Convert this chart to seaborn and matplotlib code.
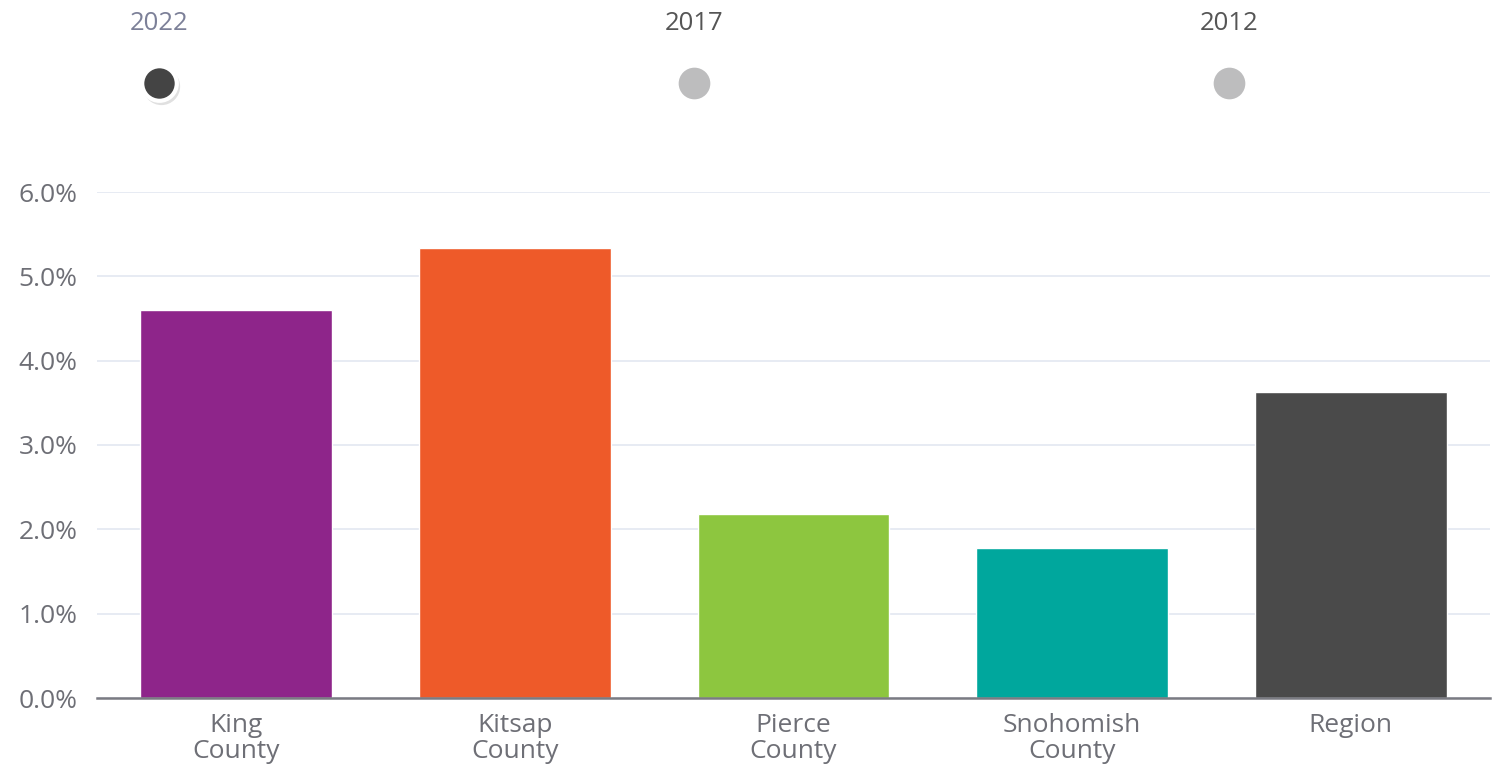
import matplotlib
matplotlib.use("Agg")
import matplotlib.pyplot as plt
import seaborn as sns
import pandas as pd
from matplotlib.ticker import FuncFormatter

categories = ["King\nCounty", "Kitsap\nCounty", "Pierce\nCounty", "Snohomish\nCounty", "Region"]
values = [4.60, 5.34, 2.18, 1.78, 3.63]
colors = ["#8E258A", "#EE5A29", "#8DC63F", "#00A79D", "#4A4A4A"]
years = ["2022", "2017", "2012"]
selected_year = "2022"
yticks = [0, 1, 2, 3, 4, 5, 6]

sns.set_theme(style="white")
plt.rcParams["font.family"] = ["Open Sans", "DejaVu Sans"]

W, H = 1498, 778
fig = plt.figure(figsize=(W / 100, H / 100), dpi=100)
ax = fig.add_axes([97 / W, (H - 698) / H, (1490 - 97) / W, (698 - 192) / H])

df = pd.DataFrame({"category": categories, "value": values})
sns.barplot(data=df, x="category", y="value", hue="category", palette=colors,
            width=0.688, ax=ax, legend=False, saturation=1)

ax.set_xlim(-0.5, 4.5)
ax.set_ylim(0, 6)
ax.set_yticks(yticks)
ax.yaxis.set_major_formatter(FuncFormatter(lambda v, p: f"{v:.1f}%"))
ax.set_xlabel("")
ax.set_ylabel("")
ax.grid(axis="y", color="#E3E7F1", linewidth=1.2)
ax.set_axisbelow(True)
for s in ["top", "right", "left"]:
    ax.spines[s].set_visible(False)
ax.spines["bottom"].set_color("#7A7B82")
ax.spines["bottom"].set_linewidth(1.8)
ax.tick_params(axis="both", length=0, labelsize=19, colors="#6E6F76")
ax.tick_params(axis="y", pad=14)
ax.tick_params(axis="x", pad=11)
for lbl in ax.get_xticklabels():
    lbl.set_linespacing(1.05)

# timeline (decoration)
ov = fig.add_axes([0, 0, 1, 1], zorder=5)
ov.set_xlim(0, W)
ov.set_ylim(H, 0)
ov.axis("off")
xs = [159, 694, 1229]
for yr, x in zip(years, xs):
    sel = yr == selected_year
    ov.text(x, 23, yr, ha="center", va="center", fontsize=18.5,
            color="#7C8098" if sel else "#555555")
    if sel:
        ov.scatter([x + 1.5], [85.5], s=720, color="#000000", alpha=0.12, linewidths=0)
        ov.scatter([x], [83], s=620, color="#444444", edgecolors="white", linewidths=3)
    else:
        ov.scatter([x], [83], s=520, color="#BDBDBE", linewidths=0)

fig.savefig("out.png", dpi=100, facecolor="white")
